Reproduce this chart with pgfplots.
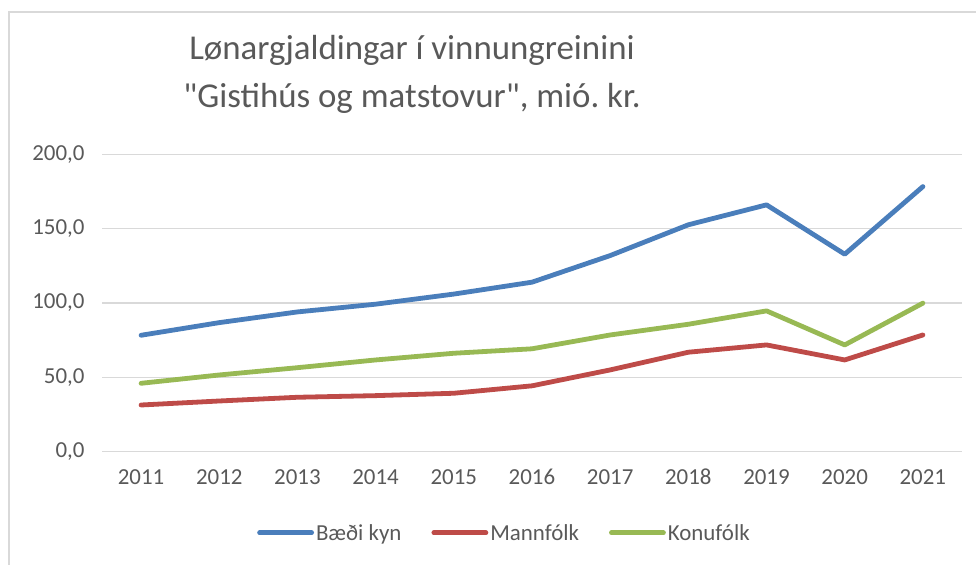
\documentclass[border=0pt]{standalone}
\usepackage{pgfplots}
\pgfplotsset{compat=1.18}
\usepackage{fontspec}
\setmainfont{Carlito}
\newfontfamily\titlefont{Carlito}[Ligatures=TeXOff]
\frenchspacing

\definecolor{cblue}{HTML}{4A7EBB}
\definecolor{cred}{HTML}{BE4B48}
\definecolor{cgreen}{HTML}{98B954}
\definecolor{cgrid}{HTML}{D9D9D9}
\definecolor{ctext}{HTML}{595959}

\begin{document}
\begin{tikzpicture}
    \useasboundingbox (0,0) rectangle (976bp,565bp);
    \draw[cgrid, line width=1.5bp] (9bp,0) -- (9bp,553bp) -- (976bp,553bp);
    \node[ctext, font=\titlefont\fontsize{35}{40}\selectfont] at (412bp,515bp) {Lønargjaldingar í vinnungreinini};
    \node[ctext, font=\titlefont\fontsize{35}{40}\selectfont] at (412bp,467bp) {"Gistihús og matstovur", mió. kr.};
    \begin{axis}[
        at={(102bp,113.3bp)}, anchor=south west,
        scale only axis,
        width=860bp, height=297.4bp,
        xmin=2010.5, xmax=2021.5,
        ymin=0, ymax=200,
        xtick={2011,2012,...,2021},
        ytick={0,50,100,150,200},
        ymajorgrids,
        major grid style={cgrid, line width=1.5bp},
        axis line style={draw=none},
        major tick length=0pt,
        tick style={draw=none},
        ticklabel style={font=\fontsize{23}{27}\selectfont, text=ctext},
        /pgf/number format/assume math mode=true,
        xticklabel style={yshift=-14bp, /pgf/number format/1000 sep={}},
        yticklabel style={xshift=-14bp, /pgf/number format/.cd, fixed, fixed zerofill, precision=1, use comma, 1000 sep={}},
        legend columns=3,
        legend style={at={(0.468,-0.273)}, anchor=center, draw=none, fill=none,
            font=\fontsize{23}{27}\selectfont, text=ctext,
            /tikz/every even column/.append style={column sep=28bp}},
        legend image code/.code={\draw[#1, line width=4.8bp, line cap=round] (0bp,0bp) -- (52bp,0bp);},
        every axis plot/.append style={line width=4.8bp, line cap=round, line join=round},
    ]
        \addplot[cblue] coordinates {
            (2011,78.3) (2012,86.8) (2013,94.0) (2014,99.2) (2015,106.0) (2016,114.0)
            (2017,131.9) (2018,152.6) (2019,166.0) (2020,132.8) (2021,178.3)
        };
        \addlegendentry{Bæði kyn}
        \addplot[cred] coordinates {
            (2011,31.4) (2012,34.1) (2013,36.6) (2014,37.7) (2015,39.3) (2016,44.3)
            (2017,55.0) (2018,66.9) (2019,71.8) (2020,61.7) (2021,78.5)
        };
        \addlegendentry{Mannfólk}
        \addplot[cgreen] coordinates {
            (2011,46.0) (2012,51.6) (2013,56.5) (2014,61.7) (2015,66.2) (2016,69.2)
            (2017,78.5) (2018,85.7) (2019,94.7) (2020,71.8) (2021,99.9)
        };
        \addlegendentry{Konufólk}
    \end{axis}
\end{tikzpicture}
\end{document}
